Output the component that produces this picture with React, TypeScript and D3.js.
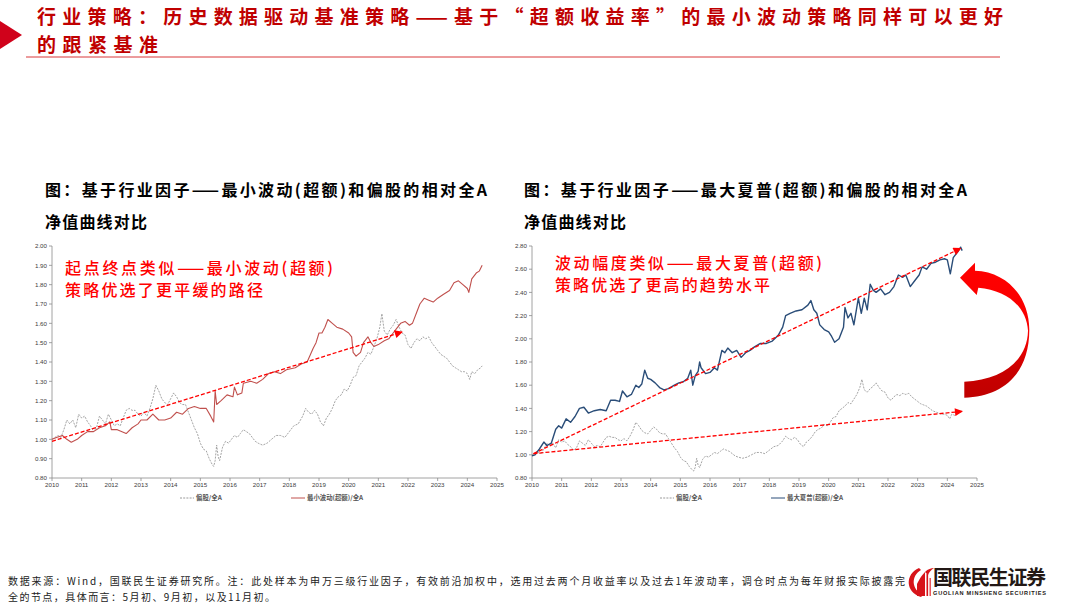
import { useEffect } from "react";
import * as d3 from "d3";

// 偏股/全A (shared by both panels)
const fundDates = [
  2010.0, 2010.1, 2010.2, 2010.3, 2010.4, 2010.5, 2010.6, 2010.7, 2010.8, 2010.9,
  2011.0, 2011.1, 2011.2, 2011.3, 2011.4, 2011.5, 2011.6, 2011.7, 2011.8, 2011.9,
  2012.0, 2012.1, 2012.2, 2012.3, 2012.4, 2012.5, 2012.6, 2012.7, 2012.8, 2012.9,
  2013.0, 2013.1, 2013.2, 2013.3, 2013.4, 2013.5, 2013.6, 2013.7, 2013.8, 2013.9,
  2014.0, 2014.1, 2014.2, 2014.3, 2014.4, 2014.5, 2014.6, 2014.7, 2014.8, 2014.9,
  2015.0, 2015.1, 2015.2, 2015.3, 2015.4, 2015.45, 2015.5, 2015.55, 2015.6, 2015.65,
  2015.75, 2015.85, 2015.95, 2016.05, 2016.15, 2016.25, 2016.35, 2016.45, 2016.55, 2016.65,
  2016.75, 2016.85, 2016.95, 2017.1, 2017.25, 2017.4, 2017.55, 2017.7, 2017.85, 2018.0,
  2018.15, 2018.3, 2018.45, 2018.55, 2018.65, 2018.75, 2018.85, 2018.95, 2019.05, 2019.15,
  2019.25, 2019.35, 2019.45, 2019.55, 2019.65, 2019.75, 2019.85, 2019.95, 2020.05, 2020.15,
  2020.25, 2020.35, 2020.45, 2020.55, 2020.65, 2020.75, 2020.85, 2020.95, 2021.05, 2021.12,
  2021.2, 2021.3, 2021.4, 2021.5, 2021.6, 2021.7, 2021.8, 2021.9, 2022.0, 2022.1,
  2022.2, 2022.3, 2022.4, 2022.5, 2022.6, 2022.7, 2022.8, 2022.9, 2023.0, 2023.1,
  2023.2, 2023.3, 2023.4, 2023.5, 2023.6, 2023.7, 2023.8, 2023.9, 2024.0, 2024.08,
  2024.15, 2024.25, 2024.35, 2024.45, 2024.5,
];
const fundValues = [
  1.0, 1.01, 1.02, 1.01, 1.05, 1.1, 1.08, 1.1, 1.06, 1.13,
  1.11, 1.12, 1.09, 1.07, 1.04, 1.06, 1.12, 1.1, 1.08, 1.13,
  1.1, 1.07, 1.08, 1.07, 1.11, 1.15, 1.16, 1.15, 1.15, 1.13,
  1.12, 1.14, 1.12, 1.16, 1.21, 1.28, 1.25, 1.21, 1.19, 1.18,
  1.21, 1.24, 1.22, 1.19, 1.18, 1.18, 1.14, 1.1, 1.06, 1.03,
  0.98, 0.95, 0.94, 0.9, 0.87, 0.86, 0.89, 0.97, 0.91, 0.89,
  0.96, 0.99, 0.98, 1.0, 1.02, 1.01, 1.03, 1.05, 1.04, 1.03,
  1.01, 0.99, 0.98, 0.97, 0.98, 1.0, 1.02, 1.02, 1.01, 1.04,
  1.07, 1.08, 1.12, 1.16, 1.14, 1.13, 1.15, 1.13, 1.09, 1.07,
  1.11, 1.13, 1.16, 1.2, 1.22, 1.23, 1.26, 1.25, 1.28, 1.32,
  1.33, 1.38, 1.4, 1.42, 1.45, 1.44, 1.48, 1.52, 1.58, 1.65,
  1.56, 1.54, 1.57, 1.59, 1.62, 1.58, 1.55, 1.54, 1.49, 1.47,
  1.5, 1.52, 1.51, 1.53, 1.52, 1.53, 1.5, 1.48, 1.46, 1.44,
  1.43, 1.42, 1.4, 1.38, 1.37, 1.36, 1.35, 1.35, 1.34, 1.31,
  1.35, 1.34, 1.36, 1.37, 1.38,
];

// 最小波动(超额)/全A
const minVolDates = [
  2010.0, 2010.15, 2010.35, 2010.5, 2010.65, 2010.85, 2011.0, 2011.2, 2011.4, 2011.6,
  2011.8, 2011.95, 2012.0, 2012.2, 2012.5, 2012.7, 2012.9, 2013.0, 2013.2, 2013.4,
  2013.6, 2013.8, 2014.0, 2014.2, 2014.4, 2014.6, 2014.8, 2015.0, 2015.2, 2015.35,
  2015.45, 2015.5, 2015.55, 2015.7, 2015.9, 2016.1, 2016.15, 2016.25, 2016.4, 2016.45,
  2016.7, 2016.9, 2017.1, 2017.3, 2017.5, 2017.7, 2017.9, 2018.2, 2018.4, 2018.6,
  2018.8, 2018.9, 2019.0, 2019.1, 2019.2, 2019.3, 2019.45, 2019.6, 2019.8, 2020.0,
  2020.1, 2020.15, 2020.25, 2020.4, 2020.5, 2020.65, 2020.75, 2020.85, 2021.0, 2021.2,
  2021.35, 2021.5, 2021.6, 2021.75, 2021.9, 2022.05, 2022.15, 2022.3, 2022.4, 2022.55,
  2022.7, 2022.85, 2023.0, 2023.2, 2023.4, 2023.55, 2023.7, 2023.85, 2024.0, 2024.05,
  2024.15, 2024.3, 2024.4, 2024.5,
];
const minVolValues = [
  1.0, 1.01, 1.02, 1.0, 0.985, 1.0, 1.02, 1.04, 1.04, 1.06,
  1.07, 1.09, 1.05, 1.05, 1.03, 1.06, 1.08, 1.1, 1.1, 1.13,
  1.1, 1.1, 1.11, 1.14, 1.13, 1.16, 1.17, 1.16, 1.16, 1.12,
  1.09, 1.25, 1.18, 1.2, 1.23, 1.22, 1.27, 1.23, 1.24, 1.29,
  1.3, 1.29, 1.31, 1.34, 1.35, 1.34, 1.36, 1.37, 1.39, 1.4,
  1.47, 1.5, 1.55, 1.55, 1.58, 1.62, 1.6, 1.58, 1.57, 1.55,
  1.53, 1.45, 1.43, 1.45, 1.5, 1.53, 1.5, 1.48, 1.49, 1.51,
  1.52, 1.55, 1.57, 1.6, 1.61, 1.59, 1.6, 1.66, 1.7, 1.73,
  1.72, 1.71, 1.73, 1.75, 1.77, 1.81, 1.82, 1.8, 1.78, 1.76,
  1.83, 1.86, 1.87, 1.9,
];

// 最大夏普(超额)/全A
const maxSharpeDates = [
  2010.0, 2010.1, 2010.25, 2010.4, 2010.5, 2010.65, 2010.8, 2010.9, 2011.0, 2011.15,
  2011.3, 2011.45, 2011.6, 2011.75, 2011.9, 2012.1, 2012.3, 2012.5, 2012.65, 2012.8,
  2012.95, 2013.05, 2013.2, 2013.35, 2013.5, 2013.6, 2013.7, 2013.8, 2013.9, 2014.0,
  2014.15, 2014.3, 2014.45, 2014.6, 2014.8, 2014.95, 2015.1, 2015.25, 2015.35, 2015.42,
  2015.5, 2015.6, 2015.65, 2015.7, 2015.85, 2016.0, 2016.15, 2016.25, 2016.4, 2016.5,
  2016.6, 2016.75, 2016.9, 2017.05, 2017.2, 2017.35, 2017.5, 2017.7, 2017.9, 2018.1,
  2018.3, 2018.45, 2018.55, 2018.7, 2018.9, 2019.1, 2019.3, 2019.4, 2019.5, 2019.6,
  2019.7, 2019.85, 2020.0, 2020.1, 2020.2, 2020.35, 2020.5, 2020.55, 2020.65, 2020.75,
  2020.85, 2021.0, 2021.1, 2021.2, 2021.3, 2021.4, 2021.5, 2021.6, 2021.75, 2021.9,
  2022.05, 2022.2, 2022.35, 2022.5, 2022.6, 2022.75, 2022.9, 2023.05, 2023.15, 2023.3,
  2023.45, 2023.6, 2023.75, 2023.9, 2024.0, 2024.1, 2024.2, 2024.35, 2024.45, 2024.5,
];
const maxSharpeValues = [
  0.99, 1.0, 1.05, 1.11, 1.08, 1.1, 1.22, 1.25, 1.23, 1.31,
  1.28, 1.33, 1.4, 1.41, 1.36, 1.38, 1.39, 1.38, 1.47, 1.47,
  1.46, 1.55, 1.5, 1.52, 1.6, 1.58, 1.61, 1.73, 1.66, 1.65,
  1.62, 1.58, 1.56, 1.57, 1.6, 1.62, 1.63, 1.66, 1.73, 1.6,
  1.68, 1.72, 1.8, 1.75, 1.7, 1.71, 1.75, 1.73, 1.9, 1.88,
  1.92, 1.88, 1.9, 1.84, 1.88, 1.9, 1.93, 1.96, 1.96, 1.98,
  2.03, 2.1, 2.2, 2.22, 2.24, 2.25, 2.29, 2.33, 2.25, 2.22,
  2.12, 2.08, 2.06, 2.02, 1.97, 2.0, 2.1, 2.27, 2.18, 2.22,
  2.12, 2.35, 2.22, 2.35, 2.25, 2.47, 2.42, 2.4, 2.43, 2.38,
  2.4, 2.45, 2.55, 2.53, 2.55, 2.45, 2.5, 2.55, 2.62, 2.6,
  2.65, 2.66, 2.68, 2.69, 2.68, 2.56, 2.7, 2.75, 2.79, 2.76,
];

const yearTicks = d3.range(2010, 2026);
const leftYTicks = [0.8, 0.9, 1.0, 1.1, 1.2, 1.3, 1.4, 1.5, 1.6, 1.7, 1.8, 1.9, 2.0];
const rightYTicks = [0.8, 1.0, 1.2, 1.4, 1.6, 1.8, 2.0, 2.2, 2.4, 2.6, 2.8];

// dashed trend arrows: [startYear, startValue, endYear, endValue]
const leftTrend = [[2010.0, 0.99, 2021.8, 1.555]];
const rightTrend = [
  [2010.05, 1.01, 2024.45, 2.78],
  [2010.05, 1.01, 2024.5, 1.374],
];

const CJK = "'Noto Sans CJK SC', 'Noto Sans', sans-serif";
const LATIN = "'Liberation Sans', Arial, sans-serif";
const GRAY = "#9a9a9a";
const RED_LINE = "#c0504d";
const BLUE_LINE = "#2a4d78";

type Series = { dates: number[]; values: number[]; color: string; width: number; dash?: string };

function Panel(props: {
  left: number;
  right: number;
  yDomain: [number, number];
  yTicks: number[];
  series: Series[];
  trends: number[][];
  legend: { label: string; color: string; dash?: string; x: number }[];
}) {
  const top = 246;
  const bottom = 478;
  const x = d3.scaleLinear().domain([2010, 2025]).range([props.left, props.right]);
  const y = d3.scaleLinear().domain(props.yDomain).range([bottom, top]);
  const fmt = d3.format(".2f");
  return (
    <g>
      {/* axes */}
      <line x1={props.left} x2={props.left} y1={top} y2={bottom} stroke="#8c8c8c" strokeWidth={0.8} />
      <line x1={props.left} x2={props.right} y1={bottom} y2={bottom} stroke="#8c8c8c" strokeWidth={0.8} />
      {props.yTicks.map((t) => (
        <g key={"y" + t}>
          <line x1={props.left - 3} x2={props.left} y1={y(t)} y2={y(t)} stroke="#8c8c8c" strokeWidth={0.8} />
          <text x={props.left - 5} y={y(t) + 2.2} fontSize={6.2} textAnchor="end" fill="#404040" fontFamily={LATIN}>
            {fmt(t)}
          </text>
        </g>
      ))}
      {yearTicks.map((t) => (
        <g key={"x" + t}>
          <line x1={x(t)} x2={x(t)} y1={bottom} y2={bottom + 3} stroke="#8c8c8c" strokeWidth={0.8} />
          <text x={x(t)} y={bottom + 9} fontSize={6.2} textAnchor="middle" fill="#404040" fontFamily={LATIN}>
            {t}
          </text>
        </g>
      ))}
      {/* series */}
      {props.series.map((s, i) => {
        const pts = s.dates.map((d, k) => [d, s.values[k]] as [number, number]);
        const path = d3
          .line<[number, number]>()
          .x((p) => x(p[0]))
          .y((p) => y(p[1]))(pts);
        return (
          <path
            key={i}
            d={path || ""}
            fill="none"
            stroke={s.color}
            strokeWidth={s.width}
            strokeDasharray={s.dash}
            strokeLinejoin="round"
          />
        );
      })}
      {/* trend arrows */}
      {props.trends.map((t, i) => (
        <line
          key={"t" + i}
          x1={x(t[0])}
          y1={y(t[1])}
          x2={x(t[2])}
          y2={y(t[3])}
          stroke="#ff0000"
          strokeWidth={1.3}
          strokeDasharray="4,2"
          markerEnd="url(#redHead)"
        />
      ))}
      {/* legend */}
      {props.legend.map((l, i) => (
        <g key={"l" + i}>
          <line
            x1={l.x}
            x2={l.x + 14}
            y1={498}
            y2={498}
            stroke={l.color}
            strokeWidth={1}
            strokeDasharray={l.dash}
          />
          <text x={l.x + 16} y={500.3} fontSize={6.4} fill="#555" fontFamily={CJK} fontWeight={700}>
            {l.label}
          </text>
        </g>
      ))}
    </g>
  );
}

// helper for decorative curved arrow coordinates
const cv = (zx: number, zy: number) => `${(940 + zx / 3).toFixed(1)},${(240 + zy / 3).toFixed(1)}`;
const curvedArrow =
  `M${cv(73, 473)} C${cv(190, 470)} ${cv(268, 400)} ${cv(268, 270)} ` +
  `C${cv(268, 170)} ${cv(200, 95)} ${cv(105, 92)} ` +
  `L${cv(105, 68)} L${cv(60, 113)} L${cv(110, 165)} L${cv(115, 143)} ` +
  `C${cv(200, 150)} ${cv(260, 200)} ${cv(264, 272)} ` +
  `C${cv(262, 360)} ${cv(190, 420)} ${cv(73, 425)} Z`;

export default function App() {
  useEffect(() => {
    document.body.style.margin = "0";
  }, []);

  return (
    <svg width={1080} height={608} viewBox="0 0 1080 608" style={{ display: "block", background: "#fff" }}>
      <defs>
        <marker
          id="redHead"
          viewBox="0 0 10 10"
          refX={9}
          refY={5}
          markerUnits="userSpaceOnUse"
          markerWidth={10}
          markerHeight={8}
          orient="auto"
        >
          <path d="M0,0 L10,5 L0,10 Z" fill="#ff0000" />
        </marker>
        <linearGradient id="arrowGrad" x1="0" y1="0" x2="0" y2="1">
          <stop offset="0%" stopColor="#ff0000" />
          <stop offset="55%" stopColor="#f80000" />
          <stop offset="80%" stopColor="#c80000" />
          <stop offset="100%" stopColor="#c00000" />
        </linearGradient>
      </defs>

      {/* header */}
      <polygon points="0,21 22,35 0,49" fill="#d0021b" />
      <text fontSize={19} fontWeight={700} fill="#c00000" fontFamily={CJK}>
        <tspan x={37} y={24} textLength={966} lengthAdjust="spacing">
          行业策略：历史数据驱动基准策略——基于“超额收益率”的最小波动策略同样可以更好
        </tspan>
        <tspan x={37} y={52} textLength={121} lengthAdjust="spacing">
          的跟紧基准
        </tspan>
      </text>
      <line x1={26} x2={1000} y1={57} y2={57} stroke="#d9383a" strokeWidth={1} />

      {/* subtitles */}
      <text x={45} y={196} fontSize={16} fontWeight={700} fill="#000" fontFamily={CJK} textLength={442} lengthAdjust="spacing">
        图：基于行业因子——最小波动(超额)和偏股的相对全A
      </text>
      <text x={45} y={228} fontSize={16} fontWeight={700} fill="#000" fontFamily={CJK} textLength={102} lengthAdjust="spacing">
        净值曲线对比
      </text>
      <text x={524} y={196} fontSize={16} fontWeight={700} fill="#000" fontFamily={CJK} textLength={443} lengthAdjust="spacing">
        图：基于行业因子——最大夏普(超额)和偏股的相对全A
      </text>
      <text x={524} y={228} fontSize={16} fontWeight={700} fill="#000" fontFamily={CJK} textLength={102} lengthAdjust="spacing">
        净值曲线对比
      </text>

      <Panel
        left={52}
        right={497}
        yDomain={[0.8, 2.0]}
        yTicks={leftYTicks}
        series={[
          { dates: fundDates, values: fundValues, color: GRAY, width: 0.9, dash: "2,1.2" },
          { dates: minVolDates, values: minVolValues, color: RED_LINE, width: 1.1 },
        ]}
        trends={leftTrend}
        legend={[
          { label: "偏股/全A", color: GRAY, dash: "2,1.2", x: 180 },
          { label: "最小波动(超额)/全A", color: RED_LINE, x: 291 },
        ]}
      />
      <Panel
        left={532}
        right={977}
        yDomain={[0.8, 2.8]}
        yTicks={rightYTicks}
        series={[
          { dates: fundDates, values: fundValues, color: GRAY, width: 0.9, dash: "2,1.2" },
          { dates: maxSharpeDates, values: maxSharpeValues, color: BLUE_LINE, width: 1.4 },
        ]}
        trends={rightTrend}
        legend={[
          { label: "偏股/全A", color: GRAY, dash: "2,1.2", x: 660 },
          { label: "最大夏普(超额)/全A", color: BLUE_LINE, x: 771 },
        ]}
      />

      {/* annotations */}
      <g fontFamily={CJK} fontSize={16} fill="#ff0000" fontWeight={500}>
        <text x={65} y={274} textLength={268} lengthAdjust="spacing">起点终点类似——最小波动(超额)</text>
        <text x={65} y={296} textLength={198} lengthAdjust="spacing">策略优选了更平缓的路径</text>
        <text x={555} y={269} textLength={267} lengthAdjust="spacing">波动幅度类似——最大夏普(超额)</text>
        <text x={555} y={291} textLength={215} lengthAdjust="spacing">策略优选了更高的趋势水平</text>
      </g>

      <path d={curvedArrow} fill="url(#arrowGrad)" />

      {/* footer */}
      <g fontFamily={CJK} fontSize={10} fill="#222">
        <text x={8} y={585} textLength={897} lengthAdjust="spacing">
          数据来源：Wind，国联民生证券研究所。注：此处样本为申万三级行业因子，有效前沿加权中，选用过去两个月收益率以及过去1年波动率，调仓时点为每年财报实际披露完
        </text>
        <text x={8} y={601} textLength={267} lengthAdjust="spacing">
          全的节点，具体而言：5月初、9月初，以及11月初。
        </text>
      </g>

      {/* logo */}
      <g>
        <path d="M919,568 C905,574 905,592 921,597 L923,595 C911,589 911,576 921,570 Z" fill="#d7141a" />
        <path d="M917,596 L917,584 C919,580 921,576 925,572 L925,596 Z" fill="#d7141a" />
        <rect x={926.5} y={574} width={1.6} height={22} fill="#d7141a" />
        <rect x={929.5} y={578} width={1.4} height={18} fill="#e8474c" />
        <path d="M925,572 C928,569 931,568 934,568 C931,570 929,572 928,575 Z" fill="#d7141a" />
        <text x={933} y={585} fontSize={20} fontWeight={700} fill="#231815" fontFamily={CJK} textLength={113} lengthAdjust="spacing">
          国联民生证券
        </text>
        <text x={933} y={594.5} fontSize={5.6} fontWeight={700} fill="#231815" fontFamily={LATIN} textLength={113} lengthAdjust="spacing">
          GUOLIAN MINSHENG SECURITIES
        </text>
      </g>
    </svg>
  );
}
